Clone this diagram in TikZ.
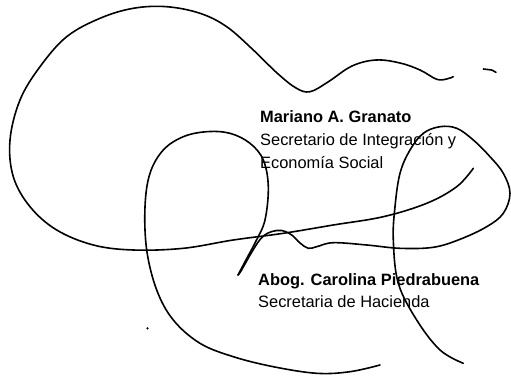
\documentclass[tikz,border=0pt]{standalone}
\usepackage{fontspec}
\setmainfont{Liberation Sans}
\usepackage{tikz}

\begin{document}
\begin{tikzpicture}[x=1pt,y=-1pt,
    ink/.style={line width=1.6pt,line cap=round,line join=round},
    signer/.style={anchor=base west,inner sep=0pt,font=\fontsize{16.4}{20}\selectfont\bfseries},
    post/.style={anchor=base west,inner sep=0pt,font=\fontsize{16.4}{20}\selectfont}]
    \useasboundingbox (0,0) rectangle (511,377);
    % big loop and long stroke
    \draw[ink] plot[smooth,tension=0.6] coordinates {
     (453.3,76.7) (446.7,79) (436.7,79.3) (420,70) (400,63) (376,60) (352,66)
     (328,82) (310,91.7) (296,88) (277,73) (253.3,50) (226.7,26.7) (200,13.3)
     (166.7,6.7) (133.3,8.3) (100,18.3) (66.7,36.7) (40,66.7) (20,100) (10,140)
     (13.3,176.7) (30,206.7) (56.7,230) (93.3,245) (133.3,250) (183.3,248.3)
     (233.3,240) (283.3,233.3) (333.3,225) (383.3,216.7) (426.7,203.3)
     (456.7,186.7) (473.3,168.3)
     };
    % left loop down to the pen tip
    \draw[ink] plot[smooth,tension=0.6] coordinates {
     (380,365) (350,371.7) (316.7,373.3) (273.3,366.7) (233.3,356.7) (200,343.3)
     (173.3,320) (156.7,290) (146.7,250) (145,206.7) (150,173.3) (163.3,150)
     (183.3,136.7) (206.7,131.7) (230,133.3) (250,143.3) (263.3,160) (268.3,186.7)
     (265,220) (256,241) (247,258) (238,275)
     };
    % back up, over the bump and round the right loop
    \draw[ink] plot[smooth,tension=0.6] coordinates {
     (238,275) (241,271) (249.5,256) (257.5,243) (264,235.5) (272,231.5)
     (281.7,230.5) (291.7,235) (300,243) (308.3,248.3) (316.7,246.7) (333.3,242.7)
     (366.7,245) (400,248.3) (433.3,247.3) (460,239.3) (486.7,226.7) (503.3,213.3)
     (510,193.3) (503.3,173.3) (490,156.7) (473.3,140) (456.7,128.3) (440,126.7)
     (423.3,133.3) (410,150) (400,173.3) (395,206.7) (393.3,240) (398.3,283.3)
     (416.7,320) (440,350) (463.3,363.3)
     };
    % small marks
    \draw[ink] (483.3,69) -- (491.7,70) -- (496,72.3);
    \fill (147.5,328.3) circle (1.2);
    % names
    \node[signer] (granato) at (260,123) {Mariano A. Granato};
    \node[post] (integracion) at (260,146) {Secretario de Integración y};
    \node[post] (economia) at (260,168) {Economía Social};
    \node[signer] (piedrabuena) at (258,285) {Abog. Carolina Piedrabuena};
    \node[post] (hacienda) at (258,307) {Secretaria de Hacienda};
\end{tikzpicture}
\end{document}
